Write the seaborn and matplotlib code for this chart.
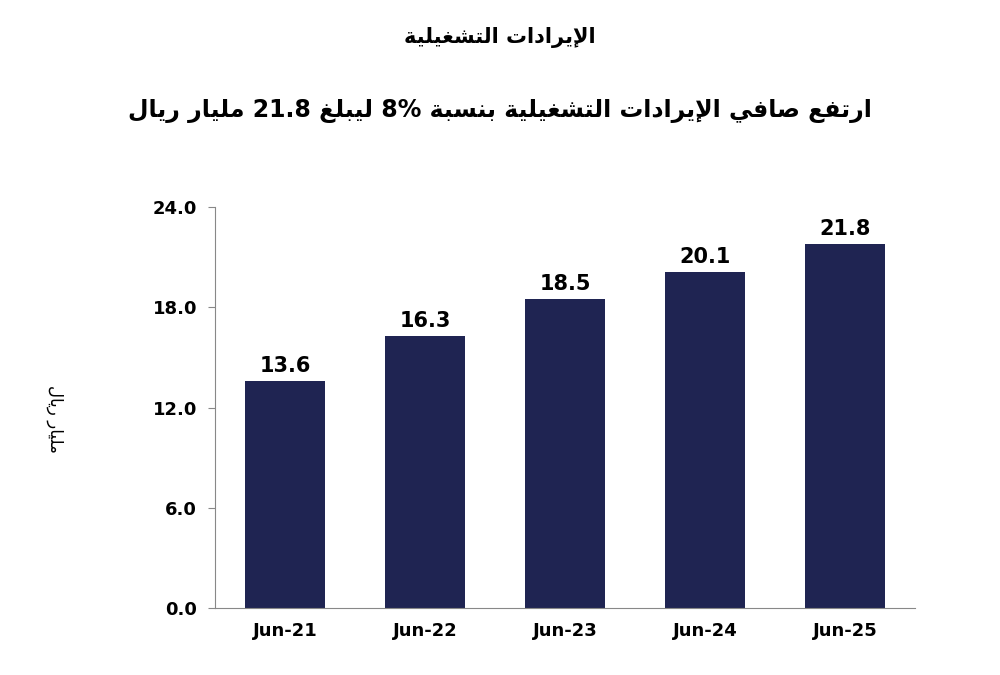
import matplotlib
matplotlib.use("Agg")
import matplotlib.pyplot as plt
import seaborn as sns
import pandas as pd

categories = ["Jun-21", "Jun-22", "Jun-23", "Jun-24", "Jun-25"]
values = [13.6, 16.3, 18.5, 20.1, 21.8]
yticks = [0.0, 6.0, 12.0, 18.0, 24.0]
title1 = "الإيرادات التشغيلية"
title2 = "ارتفع صافي الإيرادات التشغيلية بنسبة 8% ليبلغ 21.8 مليار ريال"
ylabel = "مليار ريال"

FORMS = {  # iso, fin, ini, med
    'ا': (0xFE8D, 0xFE8E, None, None), 'إ': (0xFE87, 0xFE88, None, None),
    'د': (0xFEA9, 0xFEAA, None, None), 'ر': (0xFEAD, 0xFEAE, None, None),
    'ة': (0xFE93, 0xFE94, None, None),
    'ب': (0xFE8F, 0xFE90, 0xFE91, 0xFE92), 'ت': (0xFE95, 0xFE96, 0xFE97, 0xFE98),
    'س': (0xFEB1, 0xFEB2, 0xFEB3, 0xFEB4), 'ش': (0xFEB5, 0xFEB6, 0xFEB7, 0xFEB8),
    'ص': (0xFEB9, 0xFEBA, 0xFEBB, 0xFEBC), 'ع': (0xFEC9, 0xFECA, 0xFECB, 0xFECC),
    'غ': (0xFECD, 0xFECE, 0xFECF, 0xFED0), 'ف': (0xFED1, 0xFED2, 0xFED3, 0xFED4),
    'ق': (0xFED5, 0xFED6, 0xFED7, 0xFED8), 'ل': (0xFEDD, 0xFEDE, 0xFEDF, 0xFEE0),
    'م': (0xFEE1, 0xFEE2, 0xFEE3, 0xFEE4), 'ن': (0xFEE5, 0xFEE6, 0xFEE7, 0xFEE8),
    'ه': (0xFEE9, 0xFEEA, 0xFEEB, 0xFEEC), 'ي': (0xFEF1, 0xFEF2, 0xFEF3, 0xFEF4),
    'لا': (0xFEFB, 0xFEFC, None, None), 'لإ': (0xFEF9, 0xFEFA, None, None),
}

def shape_word(w):
    units = []
    i = 0
    while i < len(w):
        if w[i] == 'ل' and i + 1 < len(w) and w[i:i+2] in FORMS:
            units.append(w[i:i+2]); i += 2
        else:
            units.append(w[i]); i += 1
    out = []
    for k, u in enumerate(units):
        if u not in FORMS:
            out.append(u); continue
        prev = units[k-1] if k > 0 else None
        nxt = units[k+1] if k + 1 < len(units) else None
        jp = prev in FORMS and FORMS[prev][2] is not None
        jn = FORMS[u][2] is not None and nxt in FORMS
        f = FORMS[u]
        if jp and jn: c = f[3]
        elif jp: c = f[1]
        elif jn: c = f[2]
        else: c = f[0]
        out.append(chr(c))
    return ''.join(out)

def ar(s):
    toks = []
    for t in s.split(' '):
        if any(ch in FORMS or ch in 'لإ' for ch in t):
            toks.append(shape_word(t)[::-1])
        else:
            toks.append(t)
    return ' '.join(toks[::-1])

df = pd.DataFrame({"cat": categories, "val": values})
plt.rcParams["font.family"] = "DejaVu Sans"
fig = plt.figure(figsize=(10, 6.75), dpi=100)
ax = fig.add_axes([0.215, 0.099, 0.70, 0.594])
sns.barplot(data=df, x="cat", y="val", color="#1f2452", width=0.57, saturation=1, ax=ax)
for i, v in enumerate(values):
    ax.text(i, v + 0.3, f"{v:.1f}", ha="center", va="bottom", fontsize=15, fontweight="bold")
ax.set_ylim(0, 24)
ax.set_yticks(yticks)
ax.set_yticklabels([f"{t:.1f}" for t in yticks], fontsize=13, fontweight="bold")
ax.set_xticklabels(categories, fontsize=13, fontweight="bold")
ax.set_xlabel("")
ax.set_ylabel("")
for s in ["top", "right"]:
    ax.spines[s].set_visible(False)
for s in ["left", "bottom"]:
    ax.spines[s].set_color("#888888")
ax.tick_params(axis="x", length=0, pad=10)
ax.tick_params(axis="y", length=5, color="#888888", pad=8)
fig.text(0.5, 0.945, ar(title1), ha="center", va="center", fontsize=15, fontweight="bold")
fig.text(0.5, 0.835, ar(title2), ha="center", va="center", fontsize=17, fontweight="bold")
fig.text(0.055, 0.38, ar(ylabel), ha="center", va="center", rotation=270, fontsize=12)
fig.savefig("out.png", dpi=100)
